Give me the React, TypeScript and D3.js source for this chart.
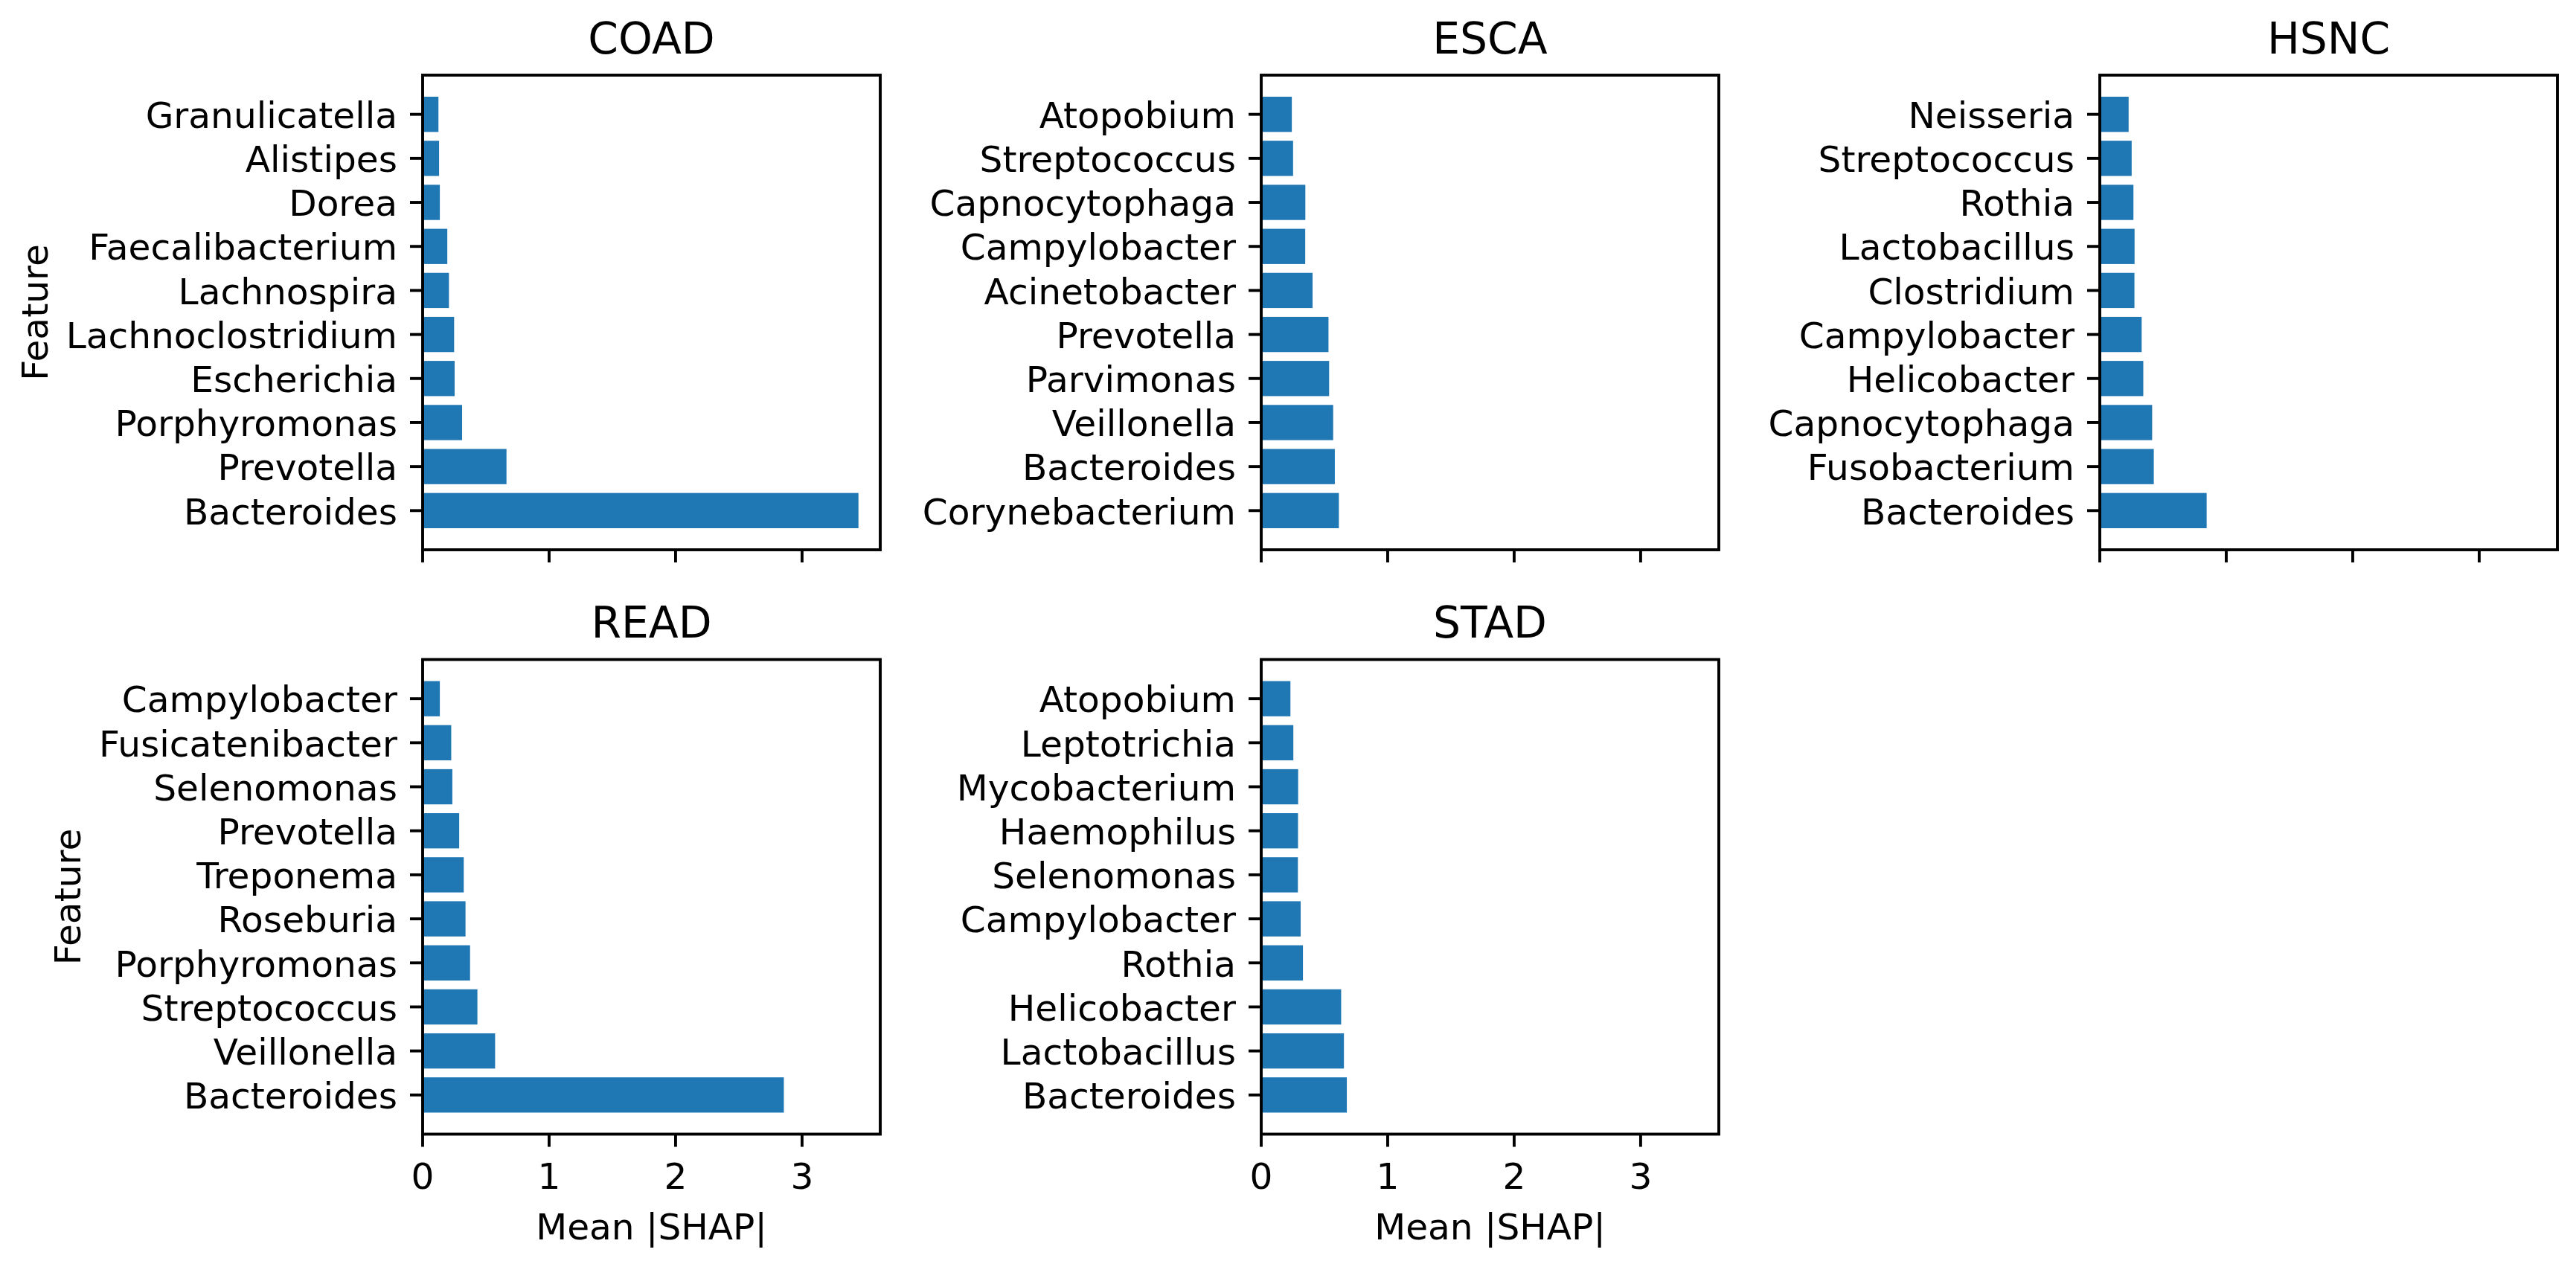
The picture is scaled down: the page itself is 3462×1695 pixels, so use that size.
import React, { useEffect, useRef } from "react";
import * as d3 from "d3";

// ---- Data (index 0 = bottom bar, as in matplotlib barh) ----
const coadFeatures = ["Bacteroides", "Prevotella", "Porphyromonas", "Escherichia", "Lachnoclostridium", "Lachnospira", "Faecalibacterium", "Dorea", "Alistipes", "Granulicatella"];
const coadValues = [3.446, 0.663, 0.312, 0.253, 0.249, 0.208, 0.195, 0.136, 0.13, 0.125];

const escaFeatures = ["Corynebacterium", "Bacteroides", "Veillonella", "Parvimonas", "Prevotella", "Acinetobacter", "Campylobacter", "Capnocytophaga", "Streptococcus", "Atopobium"];
const escaValues = [0.614, 0.582, 0.569, 0.537, 0.532, 0.406, 0.348, 0.349, 0.252, 0.242];

const hsncFeatures = ["Bacteroides", "Fusobacterium", "Capnocytophaga", "Helicobacter", "Campylobacter", "Clostridium", "Lactobacillus", "Rothia", "Streptococcus", "Neisseria"];
const hsncValues = [0.845, 0.427, 0.414, 0.344, 0.331, 0.274, 0.275, 0.266, 0.252, 0.228];

const readFeatures = ["Bacteroides", "Veillonella", "Streptococcus", "Porphyromonas", "Roseburia", "Treponema", "Prevotella", "Selenomonas", "Fusicatenibacter", "Campylobacter"];
const readValues = [2.856, 0.573, 0.433, 0.375, 0.339, 0.325, 0.289, 0.235, 0.226, 0.136];

const stadFeatures = ["Bacteroides", "Lactobacillus", "Helicobacter", "Rothia", "Campylobacter", "Selenomonas", "Haemophilus", "Mycobacterium", "Leptotrichia", "Atopobium"];
const stadValues = [0.677, 0.654, 0.632, 0.33, 0.312, 0.29, 0.291, 0.292, 0.254, 0.231];

const panelTitles = ["COAD", "ESCA", "HSNC", "READ", "STAD"];
const xTicks = [0, 1, 2, 3];
const xLabel = "Mean |SHAP|";
const yLabel = "Feature";

const W = 3462;
const H = 1695;
const PT = 350 / 72;
const FONT = "'DejaVu Sans', sans-serif";
const BAR_COLOR = "#1f77b4";

export default function App() {
  const ref = useRef<SVGSVGElement | null>(null);

  useEffect(() => {
    const svg = d3.select(ref.current);
    svg.selectAll("*").remove();

    const panels = [
      { title: panelTitles[0], f: coadFeatures, v: coadValues, col: 0, row: 0 },
      { title: panelTitles[1], f: escaFeatures, v: escaValues, col: 1, row: 0 },
      { title: panelTitles[2], f: hsncFeatures, v: hsncValues, col: 2, row: 0 },
      { title: panelTitles[3], f: readFeatures, v: readValues, col: 0, row: 1 },
      { title: panelTitles[4], f: stadFeatures, v: stadValues, col: 1, row: 1 },
    ];

    const colLeft = [568, 1695, 2822];
    const rowTop = [101, 886.5];
    const pw = 615;
    const ph = 638;

    const allMax = d3.max(panels.flatMap((p) => p.v)) as number;
    const x = d3.scaleLinear().domain([0, allMax * 1.05]).range([0, pw]);

    const tickLen = 3.5 * PT;
    const tickPad = 3.5 * PT;
    const lw = 0.8 * PT;
    const fs = 10 * PT;
    const tfs = 12 * PT;

    panels.forEach((p) => {
      const n = p.f.length;
      const lo = -0.4 - 0.05 * (n - 1 + 0.8);
      const hi = n - 1 + 0.4 + 0.05 * (n - 1 + 0.8);
      const y = d3.scaleLinear().domain([lo, hi]).range([ph, 0]);
      const g = svg.append("g").attr("transform", `translate(${colLeft[p.col]},${rowTop[p.row]})`);

      // bars
      g.selectAll("rect.bar")
        .data(p.v)
        .enter()
        .append("rect")
        .attr("class", "bar")
        .attr("x", x(0))
        .attr("y", (_d, i) => y(i + 0.4))
        .attr("width", (d) => x(d) - x(0))
        .attr("height", (_d, i) => y(i - 0.4) - y(i + 0.4))
        .attr("fill", BAR_COLOR);

      // frame
      g.append("rect")
        .attr("x", 0)
        .attr("y", 0)
        .attr("width", pw)
        .attr("height", ph)
        .attr("fill", "none")
        .attr("stroke", "#000")
        .attr("stroke-width", lw)
        .attr("stroke-linecap", "square");

      // y ticks
      const yt = g.append("g");
      p.f.forEach((name, i) => {
        yt.append("line")
          .attr("x1", 0)
          .attr("x2", -tickLen)
          .attr("y1", y(i))
          .attr("y2", y(i))
          .attr("stroke", "#000")
          .attr("stroke-width", lw);
      });
      const labels = g.append("g");
      p.f.forEach((name, i) => {
        labels
          .append("text")
          .attr("x", -tickLen - tickPad)
          .attr("y", y(i) + 0.375 * fs)
          .attr("text-anchor", "end")
          .attr("font-family", FONT)
          .attr("font-size", fs)
          .attr("fill", "#000")
          .text(name);
      });

      // x ticks
      xTicks.forEach((t) => {
        g.append("line")
          .attr("x1", x(t))
          .attr("x2", x(t))
          .attr("y1", ph)
          .attr("y2", ph + tickLen)
          .attr("stroke", "#000")
          .attr("stroke-width", lw);
        if (p.row === 1) {
          g.append("text")
            .attr("x", x(t))
            .attr("y", ph + 73)
            .attr("text-anchor", "middle")
            .attr("font-family", FONT)
            .attr("font-size", fs)
            .attr("fill", "#000")
            .text(String(t));
        }
      });

      if (p.row === 1) {
        g.append("text")
          .attr("x", pw / 2)
          .attr("y", ph + 141)
          .attr("text-anchor", "middle")
          .attr("font-family", FONT)
          .attr("font-size", fs)
          .attr("fill", "#000")
          .text(xLabel);
      }

      // title
      g.append("text")
        .attr("x", pw / 2)
        .attr("y", -6 * PT)
        .attr("text-anchor", "middle")
        .attr("font-family", FONT)
        .attr("font-size", tfs)
        .attr("fill", "#000")
        .text(p.title);

      // y label
      if (p.col === 0) {
        const bb = (labels.node() as SVGGElement).getBBox();
        const bx = bb.x - 25;
        g.append("text")
          .attr("transform", `translate(${bx},${ph / 2}) rotate(-90)`)
          .attr("text-anchor", "middle")
          .attr("font-family", FONT)
          .attr("font-size", fs)
          .attr("fill", "#000")
          .text(yLabel);
      }
    });
  }, []);

  return (
    <div style={{ position: "absolute", left: 0, top: 0, width: W, height: H, background: "#fff" }}>
      <svg ref={ref} width={W} height={H} style={{ display: "block", background: "#fff" }} />
    </div>
  );
}
